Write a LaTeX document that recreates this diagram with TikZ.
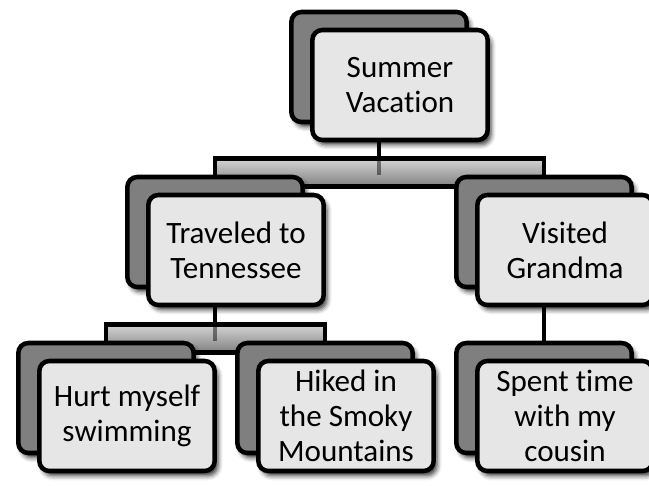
\documentclass[tikz,border=0pt]{standalone}
\usepackage{fontspec}
\setmainfont[Ligatures=NoCommon]{Carlito}
\usetikzlibrary{calc,backgrounds,shadows.blur}
\definecolor{BackFill}{HTML}{7F7F7F}
\definecolor{FrontFill}{HTML}{E6E6E6}
\definecolor{BarLight}{HTML}{D4D4D4}
\definecolor{BarDark}{HTML}{808080}

\begin{document}
\begin{tikzpicture}[x=0.75pt,y=-0.75pt,
  backbox/.style={rectangle,rounded corners=7.5pt,draw=black,fill=BackFill,line width=3.4pt,
    minimum width=131.5pt,minimum height=82.5pt,inner sep=0pt,
    blur shadow={shadow xshift=2.5pt,shadow yshift=-3.5pt,shadow blur radius=3.5pt,shadow opacity=80}},
  frontbox/.style={backbox,fill=FrontFill,align=center,font=\fontsize{23.3}{26.3}\selectfont},
  stem/.style={draw=black,line width=3.6pt},
  stemshade/.style={draw=black,line width=3pt,opacity=0.45},
  bar/.style={draw=black,line width=3.4pt,top color=BarLight,bottom color=BarDark}]
\useasboundingbox (0,0) rectangle (649,485);
% top
\node[backbox] (sv-b) at (379,67) {};
\node[frontbox] (sv) at (400,85) {Summer\\Vacation};
% second row
\node[backbox] (tt-b) at (215,232) {};
\node[frontbox] (tt) at (236,250) {Traveled to\\Tennessee};
\node[backbox] (vg-b) at (544,232) {};
\node[frontbox] (vg) at (565,250) {Visited\\Grandma};
% third row
\node[backbox] (hm-b) at (106,398) {};
\node[frontbox] (hm) at (127,416) {Hurt myself\\swimming};
\node[backbox] (hs-b) at (325,398) {};
\node[frontbox] (hs) at (346,416) {Hiked in\\the Smoky\\Mountains};
\node[backbox] (sc-b) at (544,398) {};
\node[frontbox] (sc) at (565,416) {Spent time\\with my\\cousin};
% connectors
\begin{scope}[on background layer]
\coordinate (bar1-nw) at ($(tt-b.north)+(0,-16)$);
\coordinate (bar1-se) at ($(vg-b.north)+(0,12)$);
\coordinate (bar2-nw) at ($(hm-b.north)+(0,-16)$);
\coordinate (bar2-se) at ($(hs-b.north)+(0,12)$);
\draw[bar] (bar1-nw) rectangle (bar1-se);
\draw[bar] (bar2-nw) rectangle (bar2-se);
\draw[stem] (sv-b) -- (sv-b |- bar1-nw);
\draw[stemshade] (sv-b |- bar1-nw) -- (sv-b |- tt-b.north);
\draw[stem] (tt-b) -- (tt-b |- bar2-nw);
\draw[stemshade] (tt-b |- bar2-nw) -- (tt-b |- hm-b.north);
\draw[stem] (vg-b) -- (sc-b);
\end{scope}
\end{tikzpicture}
\end{document}
